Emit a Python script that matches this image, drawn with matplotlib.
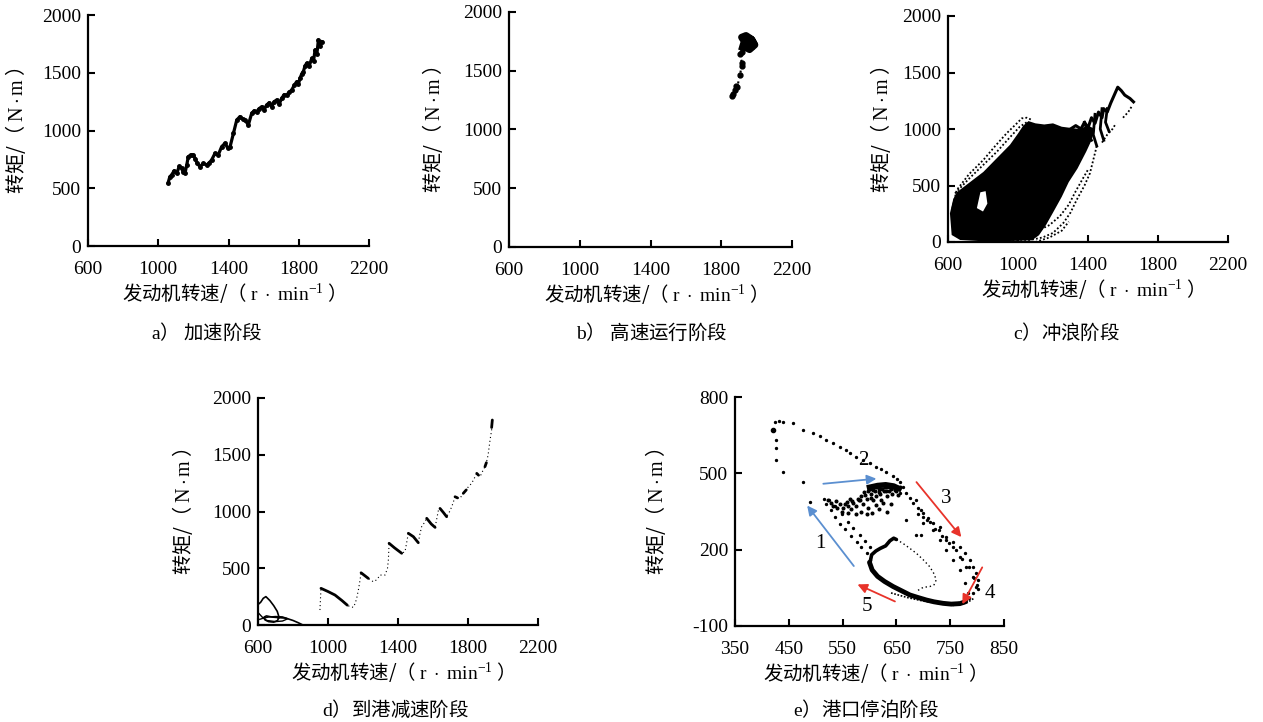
import matplotlib
matplotlib.use("Agg")
import matplotlib.pyplot as plt

plt.rcParams['font.family'] = ['Noto Sans CJK SC', 'DejaVu Sans']
plt.rcParams['mathtext.fontset'] = 'custom'
plt.rcParams['mathtext.rm'] = 'Liberation Serif'
plt.rcParams['mathtext.it'] = 'Liberation Serif:italic'
plt.rcParams['axes.unicode_minus'] = False

XLABEL = "发动机转速/（ $\\mathrm{r\\ \\cdot\\ min^{-1}}$ ）"
YLABEL = "转矩/（ $\\mathrm{N\\cdot m}$ ）"
CAPTIONS = ["$\\mathrm{a}$） 加速阶段", "$\\mathrm{b}$） 高速运行阶段", "$\\mathrm{c}$）冲浪阶段",
            "$\\mathrm{d}$）到港减速阶段", "$\\mathrm{e}$）港口停泊阶段"]

SPEED_TICKS = [600, 1000, 1400, 1800, 2200]
TORQUE_TICKS = [0, 500, 1000, 1500, 2000]
E_SPEED_TICKS = [350, 450, 550, 650, 750, 850]
E_TORQUE_TICKS = [-100, 200, 500, 800]

# a) acceleration stage
a_speed = [1056, 1066, 1076, 1090, 1105, 1120, 1133, 1142, 1152, 1162, 1171, 1185, 1200, 1212, 1222, 1238,
           1257, 1276, 1290, 1304, 1323, 1342, 1361, 1380, 1395, 1409, 1428, 1447, 1465, 1480, 1494, 1513,
           1532, 1546, 1560, 1575, 1589, 1603, 1617, 1632, 1646, 1660, 1674, 1689, 1703, 1717, 1731, 1745,
           1760, 1774, 1788, 1798, 1807, 1817, 1826, 1836, 1845, 1860, 1874, 1884, 1893, 1903, 1912, 1922, 1931]
a_torque = [546, 600, 615, 650, 629, 690, 673, 640, 629, 700, 773, 790, 788, 750, 716, 687,
            716, 701, 720, 745, 802, 790, 860, 889, 850, 860, 975, 1091, 1120, 1100, 1091, 1048,
            1149, 1170, 1163, 1190, 1206, 1180, 1221, 1240, 1206, 1250, 1264, 1230, 1279, 1310, 1307, 1330,
            1351, 1390, 1423, 1400, 1452, 1490, 1509, 1560, 1582, 1560, 1625, 1600, 1697, 1660, 1784, 1730, 1769]

# b) high-speed stage
b_low_speed = [1860, 1868, 1875, 1882, 1890, 1906, 1915, 1918, 1905, 1915]
b_low_torque = [1285, 1300, 1340, 1370, 1360, 1464, 1540, 1563, 1640, 1660]
b_top_speed = [1920, 1930, 1915, 1940, 1960, 1975, 1985, 1970, 1950, 1935, 1960, 1990, 1970, 1945]
b_top_torque = [1700, 1750, 1785, 1800, 1780, 1760, 1730, 1700, 1720, 1700, 1680, 1720, 1770, 1760]

# c) surf-riding stage: dense core outline, fringe traces, upper-right traces
c_core_speed = [621, 611, 630, 650, 726, 802, 878, 954, 1000, 1030, 1060, 1100, 1150, 1200, 1250, 1300,
                1350, 1400, 1440, 1420, 1390, 1340, 1290, 1250, 1200, 1160, 1120, 1080, 840, 669]
c_core_torque = [62, 254, 380, 440, 530, 620, 740, 860, 960, 1030, 1070, 1050, 1040, 1050, 1020, 1010,
                 1000, 1030, 1000, 900, 800, 650, 530, 400, 260, 150, 60, 15, 3, 18]
c_hole_speed = [765, 785, 815, 825, 800]
c_hole_torque = [300, 440, 450, 340, 270]
c_fringe = [
    ([625, 650, 720, 802, 870, 935, 1000, 1021, 1050, 1080], [300, 460, 600, 726, 850, 962, 1060, 1094, 1100, 1080]),
    ([640, 720, 800, 880, 950, 1010, 1050], [430, 560, 680, 800, 920, 1020, 1060]),
    ([900, 1000, 1069, 1140, 1200, 1260, 1300, 1335, 1380, 1411, 1449],
     [0, 20, 18, 40, 80, 170, 260, 372, 500, 608, 843]),
    ([1000, 1100, 1180, 1240, 1290, 1330, 1370, 1400], [50, 90, 150, 230, 330, 450, 560, 640]),
    ([1100, 1180, 1250, 1290], [0, 40, 100, 180]),
    ([1480, 1510, 1540, 1560], [880, 950, 1000, 1050]),
    ([1600, 1630, 1650], [1100, 1150, 1200]),
]
c_top_speed = [1300, 1330, 1360, 1380, 1400, 1420, 1440, 1460, 1480, 1490, 1510, 1530, 1550, 1570, 1590,
               1610, 1640, 1660]
c_top_torque = [1000, 1030, 1000, 1060, 1010, 1100, 1050, 1150, 1100, 1180, 1150, 1230, 1300, 1370, 1340,
                1300, 1270, 1240]
c_strokes = [([1440, 1430, 1450], [1130, 950, 850]), ([1480, 1470, 1490], [1180, 1000, 900]),
             ([1380, 1400, 1420], [1060, 960, 900]), ([1510, 1500, 1520], [1180, 1060, 980])]

# d) deceleration stage
d_speed = [954, 957, 960, 975, 1000, 1040, 1080, 1110, 1126, 1145, 1155, 1164, 1175, 1183, 1189, 1210, 1230,
           1259, 1280, 1297, 1326, 1340, 1345, 1349, 1380, 1421, 1440, 1450, 1459, 1488, 1516, 1525, 1535,
           1550, 1564, 1590, 1612, 1622, 1631, 1640, 1660, 1678, 1695, 1707, 1720, 1726, 1740, 1754, 1773,
           1790, 1802, 1821, 1835, 1850, 1869, 1885, 1897, 1910, 1916, 1926, 1935, 1939]
d_torque = [132, 230, 323, 310, 295, 264, 215, 175, 161, 156, 190, 235, 320, 396, 460, 435, 411,
            381, 400, 440, 440, 500, 573, 720, 680, 632, 646, 730, 808, 778, 725, 800, 866,
            900, 940, 890, 860, 940, 1012, 1027, 990, 954, 1000, 1042, 1100, 1130, 1120, 1116, 1160,
            1190, 1218, 1248, 1290, 1336, 1307, 1360, 1395, 1460, 1512, 1630, 1718, 1806]
d_strokes = [
    ([960, 1000, 1040, 1080, 1110], [323, 295, 264, 215, 175]),
    ([1189, 1210, 1230], [460, 435, 411]),
    ([1349, 1380, 1421], [720, 680, 632]),
    ([1459, 1488, 1516], [808, 778, 725]),
    ([1564, 1590, 1612], [940, 890, 860]),
    ([1640, 1660, 1678], [1027, 990, 954]),
    ([1726, 1740], [1130, 1120]),
    ([1773, 1790], [1160, 1190]),
    ([1850, 1860], [1336, 1320]),
    ([1897, 1905], [1395, 1430]),
    ([1935, 1939], [1740, 1806]),
]
d_loop1_speed = [600, 615, 630, 645, 655, 668, 690, 710, 720, 712, 690, 660, 640, 635, 648, 680, 720, 760, 800, 830, 850]
d_loop1_torque = [180, 200, 235, 250, 235, 215, 170, 120, 70, 40, 25, 30, 45, 70, 80, 70, 65, 60, 40, 20, 5]
d_loop2_speed = [600, 615, 630, 650, 700, 740, 770, 740, 700, 660, 630, 610]
d_loop2_torque = [110, 85, 60, 40, 30, 35, 55, 72, 75, 70, 60, 50]

# e) berthing stage
e_outer_speed = [421, 424, 432, 440, 458, 477, 495, 508, 520, 533, 545, 556, 563, 575, 588, 600, 613, 622,
                 631, 644, 652, 656, 662, 668, 675, 681, 690, 699, 708, 718, 730, 743, 755, 768, 778, 786,
                 792, 798, 801, 800, 792, 785, 774, 765, 755]
e_outer_torque = [670, 703, 705, 703, 697, 672, 657, 645, 631, 618, 605, 592, 579, 566, 552, 540, 526, 516,
                  506, 490, 478, 465, 445, 422, 402, 385, 362, 343, 323, 304, 278, 251, 232, 212, 186, 159,
                  133, 107, 80, 60, 30, 10, -4, -10, -12]
e_left_speed = [427, 427, 427, 440, 477, 490]
e_left_torque = [631, 598, 552, 506, 467, 389]
e_band_speed = [731, 743, 755, 768, 780, 792, 798, 706, 718, 731, 743, 755, 768, 777, 783, 780,
                690, 700, 712, 722, 735, 748, 760, 772, 785, 795, 802]
e_band_torque = [290, 238, 212, 172, 133, 94, 55, 317, 277, 238, 199, 159, 120, 68, 29, 3,
                 340, 330, 310, 280, 255, 225, 200, 165, 130, 90, 45]
e_path1_speed = [515, 520, 528, 535, 545, 555, 565, 576, 585, 595, 601, 525, 535, 548, 560, 570, 582, 592, 600]
e_path1_torque = [400, 380, 355, 330, 300, 280, 255, 230, 210, 185, 160, 395, 370, 340, 310, 285, 258, 235, 210]
e_bottom_speed = [600, 605, 615, 628, 644, 660, 675, 690, 706, 720, 737, 752, 768, 778]
e_bottom_torque = [150, 120, 95, 75, 55, 38, 22, 12, 2, -5, -11, -14, -12, -5]
e_bottom2_speed = [640, 670, 700, 730, 760, 780, 795]
e_bottom2_torque = [30, 12, -2, -12, -16, -10, 10]
e_rise_speed = [601, 604, 612, 620, 630, 638, 645, 650]
e_rise_torque = [150, 180, 195, 205, 215, 235, 245, 240]
e_inner_speed = [650, 662, 675, 687, 700, 712, 720, 724, 720, 712, 700, 690, 656, 668, 687, 696, 699, 696, 687]
e_inner_torque = [240, 225, 205, 186, 160, 133, 105, 81, 62, 55, 52, 40, 421, 317, 258, 258, 304, 356, 395]
e_cluster_speed = [522, 528, 532, 538, 545, 550, 555, 560, 565, 570, 575, 580, 584, 588, 590, 595, 598, 600,
                   603, 606, 608, 610, 612, 615, 618, 620, 622, 625, 628, 630, 632, 635, 638, 640, 642, 645,
                   648, 650, 653, 656, 612, 618, 625, 632, 640, 605, 596, 585, 575, 560, 548, 540,
                   592, 597, 602, 607, 613, 617, 623, 627, 633, 637, 643, 647, 652, 583, 578, 568, 563, 558]
e_cluster_torque = [395, 385, 372, 390, 378, 365, 380, 372, 360, 385, 370, 395, 410, 380, 425, 400, 365, 440,
                    420, 395, 450, 430, 410, 455, 440, 420, 395, 455, 445, 430, 410, 456, 448, 438, 420, 452,
                    440, 430, 415, 445, 375, 360, 385, 350, 380, 345, 340, 350, 340, 345, 350, 362,
                    415, 430, 405, 435, 445, 425, 440, 430, 445, 430, 445, 435, 447, 395, 400, 392, 400, 388]
e_core_speed = [600, 615, 630, 645, 655]
e_core_torque = [445, 452, 455, 450, 440]

# arrows (start, end) and phase numbers
e_arrows = [((574, 127), (481, 382), '#5b8fd0'), ((509, 458), (618, 480), '#5b8fd0'),
            ((684, 474), (774, 241), '#e8332a'), ((812, 140), (770, -24), '#e8332a'),
            ((652, -8), (573, 68), '#e8332a')]
e_labels = [("1", 508, 225), ("2", 588, 552), ("3", 743, 402), ("4", 824, 28), ("5", 596, -24)]

fig = plt.figure(figsize=(12.63, 7.22), dpi=100)
W, H = 1263, 722


def make_axes(left, top, right, bottom):
    return fig.add_axes([left / W, 1 - bottom / H, (right - left) / W, (bottom - top) / H])


def style(ax, xlim, ylim, xticks, yticks, ylab_px, width_px):
    ax.set_xlim(*xlim)
    ax.set_ylim(*ylim)
    ax.set_xticks(xticks)
    ax.set_yticks(yticks)
    for s in ['top', 'right']:
        ax.spines[s].set_visible(False)
    for s in ['left', 'bottom']:
        ax.spines[s].set_linewidth(1.6)
    ax.tick_params(direction='in', length=5, width=1.5, labelsize=14, pad=5)
    ax.tick_params(axis='x', pad=11)
    for lab in ax.get_xticklabels() + ax.get_yticklabels():
        lab.set_family('Liberation Serif')
    for t in ax.get_xticklines() + ax.get_yticklines():
        t.set_clip_on(False)
    ax.set_xlabel(XLABEL, fontsize=14, labelpad=2)
    ax.set_ylabel(YLABEL, fontsize=14.5)
    # label anchor is the right edge of the rotated text
    ax.yaxis.set_label_coords(-(ylab_px - 10) / width_px, 0.5)


# a
ax = make_axes(88, 15, 369, 246)
ax.plot(a_speed, a_torque, color='black', lw=2.3, marker='o', ms=2.5)
style(ax, (600, 2200), (0, 2000), SPEED_TICKS, TORQUE_TICKS, 70, 281)

# b
ax = make_axes(509, 12, 792, 247)
ax.plot(b_low_speed, b_low_torque, color='black', lw=1.5, ls=':', marker='o', ms=3.5)
ax.plot(b_top_speed, b_top_torque, color='black', lw=5, solid_joinstyle='round')
style(ax, (600, 2200), (0, 2000), SPEED_TICKS, TORQUE_TICKS, 74, 283)

# c
ax = make_axes(948, 16, 1228, 242)
ax.fill(c_core_speed, c_core_torque, color='black', lw=0)
ax.fill(c_hole_speed, c_hole_torque, color='white', lw=0)
for xs, ys in c_fringe:
    ax.plot(xs, ys, color='black', lw=1.3, ls=(0, (1, 1.2)))
ax.plot(c_top_speed, c_top_torque, color='black', lw=2.2, solid_joinstyle='round')
for xs, ys in c_strokes:
    ax.plot(xs, ys, color='black', lw=2.0)
style(ax, (600, 2200), (0, 2000), SPEED_TICKS, TORQUE_TICKS, 65, 280)

# d
ax = make_axes(258, 398, 538, 625)
ax.plot(d_speed, d_torque, color='black', lw=0.8, ls=(0, (1, 2.5)))
for xs, ys in d_strokes:
    ax.plot(xs, ys, color='black', lw=2.0, solid_capstyle='round')
ax.plot(d_loop1_speed, d_loop1_torque, color='black', lw=1.2)
ax.plot(d_loop2_speed, d_loop2_torque, color='black', lw=1.0)
style(ax, (600, 2200), (0, 2000), SPEED_TICKS, TORQUE_TICKS, 73, 280)

# e
ax = make_axes(735, 397, 1004, 626)
dot = dict(ls='none', marker='o', ms=1.4, color='black')
ax.plot(e_outer_speed, e_outer_torque, **dot)
ax.plot(e_left_speed, e_left_torque, **dot)
ax.plot([e_outer_speed[0]], [e_outer_torque[0]], ls='none', marker='o', ms=3, color='black')
ax.plot(e_band_speed, e_band_torque, **dot)
ax.plot(e_path1_speed, e_path1_torque, **dot)
ax.plot(e_cluster_speed, e_cluster_torque, ls='none', marker='o', ms=1.9, color='black')
ax.plot(e_core_speed, e_core_torque, color='black', lw=4)
ax.plot(e_bottom_speed, e_bottom_torque, color='black', lw=3.5, solid_capstyle='round')
ax.plot(e_bottom2_speed, e_bottom2_torque, color='black', lw=1.2, ls=(0, (1, 1)))
ax.plot(e_rise_speed, e_rise_torque, color='black', lw=2.6, solid_capstyle='round')
ax.plot(e_inner_speed[:12], e_inner_torque[:12], color='black', lw=1.0, ls=(0, (1, 2)))
ax.plot(e_inner_speed[12:], e_inner_torque[12:], **dot)
for (x0, y0), (x1, y1), col in e_arrows:
    ax.annotate('', xy=(x1, y1), xytext=(x0, y0),
                arrowprops=dict(arrowstyle='-|>', color=col, lw=1.3, mutation_scale=14))
for txt, x, y in e_labels:
    ax.text(x, y, txt, fontsize=15, family='Liberation Serif', ha='center', va='center')
style(ax, (350, 850), (-100, 800), E_SPEED_TICKS, E_TORQUE_TICKS, 77, 269)

# captions
cap_pos = [(207, 333), (652, 333), (1067, 333), (396, 710), (866, 710)]
for txt, (x, y) in zip(CAPTIONS, cap_pos):
    fig.text(x / W, 1 - y / H, txt, fontsize=14, ha='center', va='center')

fig.savefig("out.png", dpi=100)
